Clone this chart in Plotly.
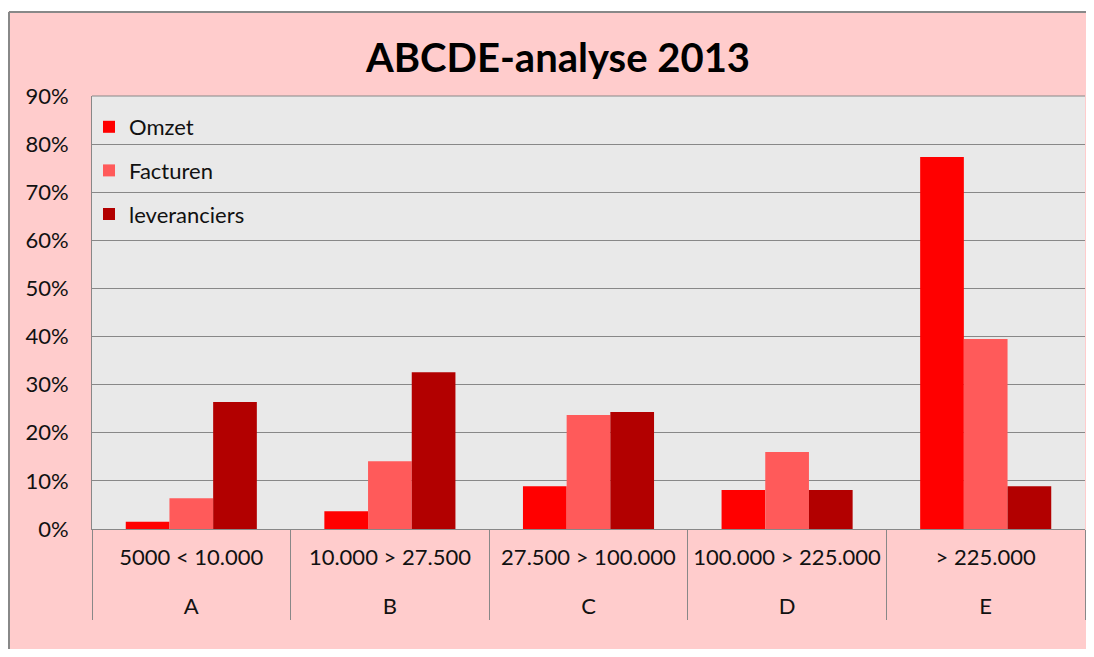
import plotly.graph_objects as go

groups = ["A", "B", "C", "D", "E"]
ranges = ["5000 < 10.000", "10.000 > 27.500", "27.500 > 100.000", "100.000 > 225.000", "> 225.000"]
omzet = [0.015, 0.037, 0.089, 0.081, 0.773]
facturen = [0.064, 0.141, 0.237, 0.160, 0.395]
leveranciers = [0.264, 0.326, 0.243, 0.081, 0.089]
series_names = ["Omzet", "Facturen", "leveranciers"]
series_colors = ["#FF0000", "#FF5A5A", "#B20000"]
y_ticks = [0, 0.1, 0.2, 0.3, 0.4, 0.5, 0.6, 0.7, 0.8, 0.9]

FONT = "Lato"
FS = 22
W, H = 1078, 641          # page body has an 8px margin on every side
L, R, T, B = 84, 1077, 88, 521  # plot area pixel edges in figure coords

outer = ["<br>" + g for g in groups]

fig = go.Figure()
for name, vals, col in zip(series_names, [omzet, facturen, leveranciers], series_colors):
    fig.add_trace(go.Bar(
        x=[outer, ranges], y=vals, name=name, marker=dict(color=col, line=dict(width=0)),
        legendgroup=name,
    ))

def px_x(p):
    return (p - L) / (R - L)

def px_y(p):
    return (B - p) / (B - T)

shapes = [
    dict(type="rect", xref="paper", yref="paper", x0=px_x(-5), x1=px_x(W + 5), y0=px_y(3.5), y1=px_y(-5),
         fillcolor="white", line=dict(width=0), layer="above"),
    dict(type="rect", xref="paper", yref="paper", x0=px_x(-5), x1=px_x(0.5), y0=px_y(H + 5), y1=px_y(-5),
         fillcolor="white", line=dict(width=0), layer="above"),
    dict(type="line", xref="paper", yref="paper", x0=px_x(1), x1=px_x(W + 5), y0=px_y(4), y1=px_y(4),
         line=dict(color="#888888", width=2), layer="above"),
    dict(type="line", xref="paper", yref="paper", x0=px_x(1), x1=px_x(1), y0=px_y(4), y1=px_y(H + 5),
         line=dict(color="#888888", width=2), layer="above"),
    dict(type="line", xref="paper", yref="paper", x0=0, x1=1, y0=1, y1=1,
         line=dict(color="#888888", width=1), layer="above"),
]

fig.update_layout(
    width=W, height=H,
    margin=dict(l=L, r=W - R, t=T, b=H - B, pad=0),
    paper_bgcolor="#FFCCCC",
    plot_bgcolor="#E9E9E9",
    font=dict(family=FONT, size=FS, color="#111111"),
    title=dict(text="<b>ABCDE-analyse 2013</b>", x=550 / W, xanchor="center", y=1 - 50 / H, yanchor="middle",
               font=dict(family=FONT, size=40, color="#000000")),
    barmode="group", bargap=0.34, bargroupgap=0,
    showlegend=True,
    legend=dict(x=-0.003, y=1 - 10 / (B - T), xanchor="left", yanchor="top", bgcolor="rgba(0,0,0,0)",
                font=dict(family=FONT, size=FS, color="#111111"), traceorder="grouped", tracegroupgap=12,
                itemsizing="constant"),
    shapes=shapes,
    xaxis=dict(showgrid=False, showline=True, linecolor="#888888", linewidth=1,
               showdividers=True, dividercolor="#888888", dividerwidth=1,
               tickfont=dict(family=FONT, size=FS, color="#111111"), ticks="", ticklabelstandoff=9),
    yaxis=dict(range=[0, 0.9], tickvals=y_ticks, tickformat=".0%", showgrid=True, gridcolor="#888888", gridwidth=1,
               showline=True, linecolor="#888888", linewidth=1, zeroline=False, ticks="",
               ticklabelstandoff=18, tickfont=dict(family=FONT, size=FS, color="#111111")),
)

fig.write_html("out.html")
